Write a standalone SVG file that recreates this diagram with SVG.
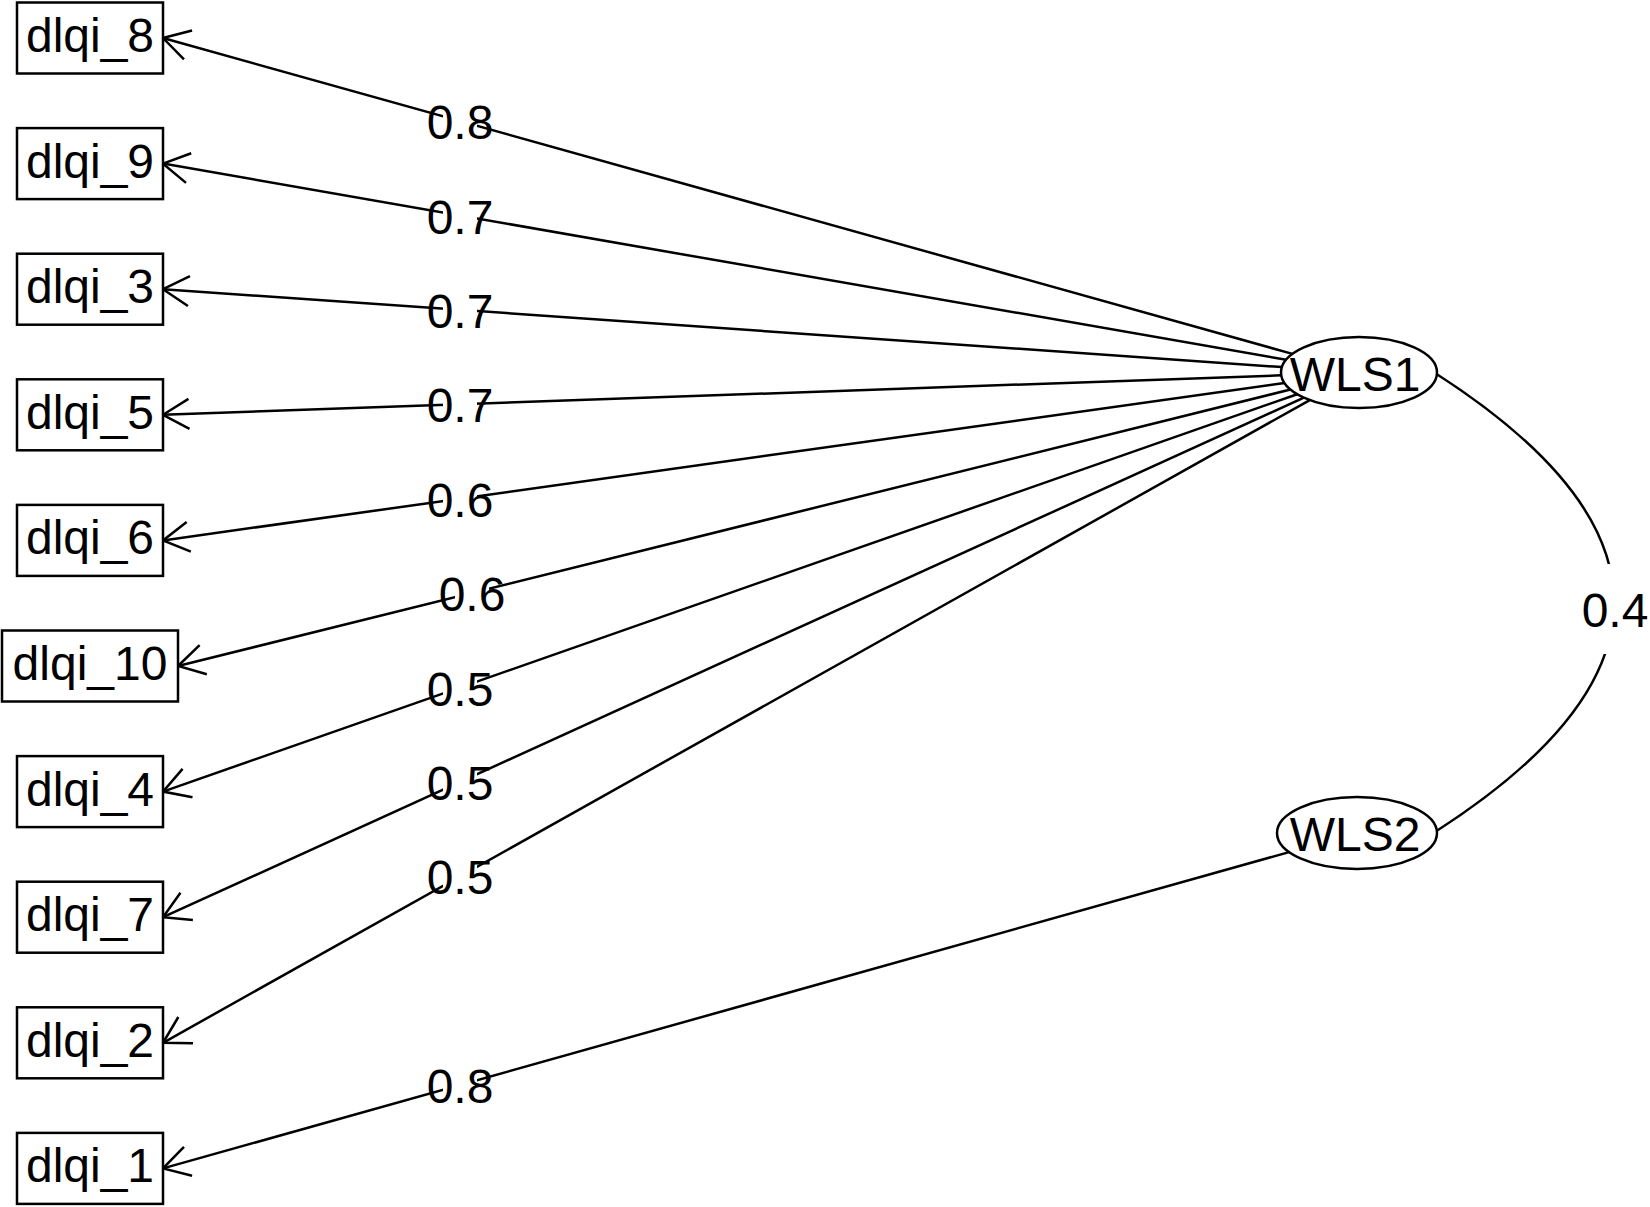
<svg xmlns="http://www.w3.org/2000/svg" width="1650" height="1207" viewBox="0 0 1650 1207">
<style>
.box{fill:#fff;stroke:#000;stroke-width:2.5}
.ell{fill:#fff;stroke:#000;stroke-width:2.5}
.edge{fill:none;stroke:#000;stroke-width:2.5}
.t{font-family:"Liberation Sans",Arial,sans-serif;font-size:48px;fill:#000;text-anchor:middle}
.bg{fill:#fff;stroke:none}
</style>
<defs>
<marker id="arr" markerUnits="userSpaceOnUse" viewBox="-30 -20 40 40" refX="0" refY="0" markerWidth="40" markerHeight="40" orient="auto" overflow="visible">
<path d="M-26,-15 L0,0 L-26,15" fill="none" stroke="#000" stroke-width="2.5"/>
</marker>
</defs>
<rect width="1650" height="1207" fill="#fff"/>
<g id="connectors">
<line class="edge" x1="1292.5" y1="353.9" x2="163" y2="38" marker-end="url(#arr)"/>
<line class="edge" x1="1286.2" y1="359.8" x2="163" y2="163.6" marker-end="url(#arr)"/>
<line class="edge" x1="1281.9" y1="367.1" x2="163" y2="289.2" marker-end="url(#arr)"/>
<line class="edge" x1="1281.3" y1="375.3" x2="163" y2="414.8" marker-end="url(#arr)"/>
<line class="edge" x1="1284.5" y1="383" x2="163" y2="540.4" marker-end="url(#arr)"/>
<line class="edge" x1="1290.5" y1="389.5" x2="178" y2="666" marker-end="url(#arr)"/>
<line class="edge" x1="1297.2" y1="394.2" x2="163" y2="791.6" marker-end="url(#arr)"/>
<line class="edge" x1="1303.9" y1="397.6" x2="163" y2="917.2" marker-end="url(#arr)"/>
<line class="edge" x1="1309.8" y1="400.1" x2="163" y2="1042.8" marker-end="url(#arr)"/>
<line class="edge" x1="1289.1" y1="852.1" x2="163" y2="1168.4" marker-end="url(#arr)"/>
<path class="edge" d="M1435,373 Q1793,602.5 1435,832"/>
</g>
<g id="edge-labels">
<rect class="bg" x="443" y="109" width="34" height="24"/><text class="t" x="460" y="139">0.8</text>
<rect class="bg" x="443" y="203.5" width="34" height="24"/><text class="t" x="460" y="233.5">0.7</text>
<rect class="bg" x="443" y="298" width="34" height="24"/><text class="t" x="460" y="328">0.7</text>
<rect class="bg" x="443" y="392" width="34" height="24"/><text class="t" x="460" y="422">0.7</text>
<rect class="bg" x="443" y="487" width="34" height="24"/><text class="t" x="460" y="517">0.6</text>
<rect class="bg" x="455" y="581" width="34" height="24"/><text class="t" x="472" y="611">0.6</text>
<rect class="bg" x="443" y="675.5" width="34" height="24"/><text class="t" x="460" y="705.5">0.5</text>
<rect class="bg" x="443" y="770" width="34" height="24"/><text class="t" x="460" y="800">0.5</text>
<rect class="bg" x="443" y="864" width="34" height="24"/><text class="t" x="460" y="894">0.5</text>
<rect class="bg" x="443" y="1073" width="34" height="24"/><text class="t" x="460" y="1103">0.8</text>
<rect class="bg" x="1588" y="564" width="58" height="90"/><text class="t" x="1615" y="627">0.4</text>
</g>
<g id="node-dlqi_8"><rect class="box" x="17" y="2.5" width="146" height="71"/><text class="t" x="90" y="52">dlqi_8</text></g>
<g id="node-dlqi_9"><rect class="box" x="17" y="128.1" width="146" height="71"/><text class="t" x="90" y="177.6">dlqi_9</text></g>
<g id="node-dlqi_3"><rect class="box" x="17" y="253.7" width="146" height="71"/><text class="t" x="90" y="303.2">dlqi_3</text></g>
<g id="node-dlqi_5"><rect class="box" x="17" y="379.3" width="146" height="71"/><text class="t" x="90" y="428.8">dlqi_5</text></g>
<g id="node-dlqi_6"><rect class="box" x="17" y="504.9" width="146" height="71"/><text class="t" x="90" y="554.4">dlqi_6</text></g>
<g id="node-dlqi_10"><rect class="box" x="2" y="630.5" width="176" height="71"/><text class="t" x="90" y="680">dlqi_10</text></g>
<g id="node-dlqi_4"><rect class="box" x="17" y="756.1" width="146" height="71"/><text class="t" x="90" y="805.6">dlqi_4</text></g>
<g id="node-dlqi_7"><rect class="box" x="17" y="881.7" width="146" height="71"/><text class="t" x="90" y="931.2">dlqi_7</text></g>
<g id="node-dlqi_2"><rect class="box" x="17" y="1007.3" width="146" height="71"/><text class="t" x="90" y="1056.8">dlqi_2</text></g>
<g id="node-dlqi_1"><rect class="box" x="17" y="1132.9" width="146" height="71"/><text class="t" x="90" y="1182.4">dlqi_1</text></g>
<g id="node-WLS1"><ellipse class="ell" cx="1359" cy="372.5" rx="78" ry="35.5"/><text class="t" x="1355" y="391">WLS1</text></g>
<g id="node-WLS2"><ellipse class="ell" cx="1357" cy="833" rx="80" ry="36"/><text class="t" x="1355" y="851">WLS2</text></g>
</svg>
